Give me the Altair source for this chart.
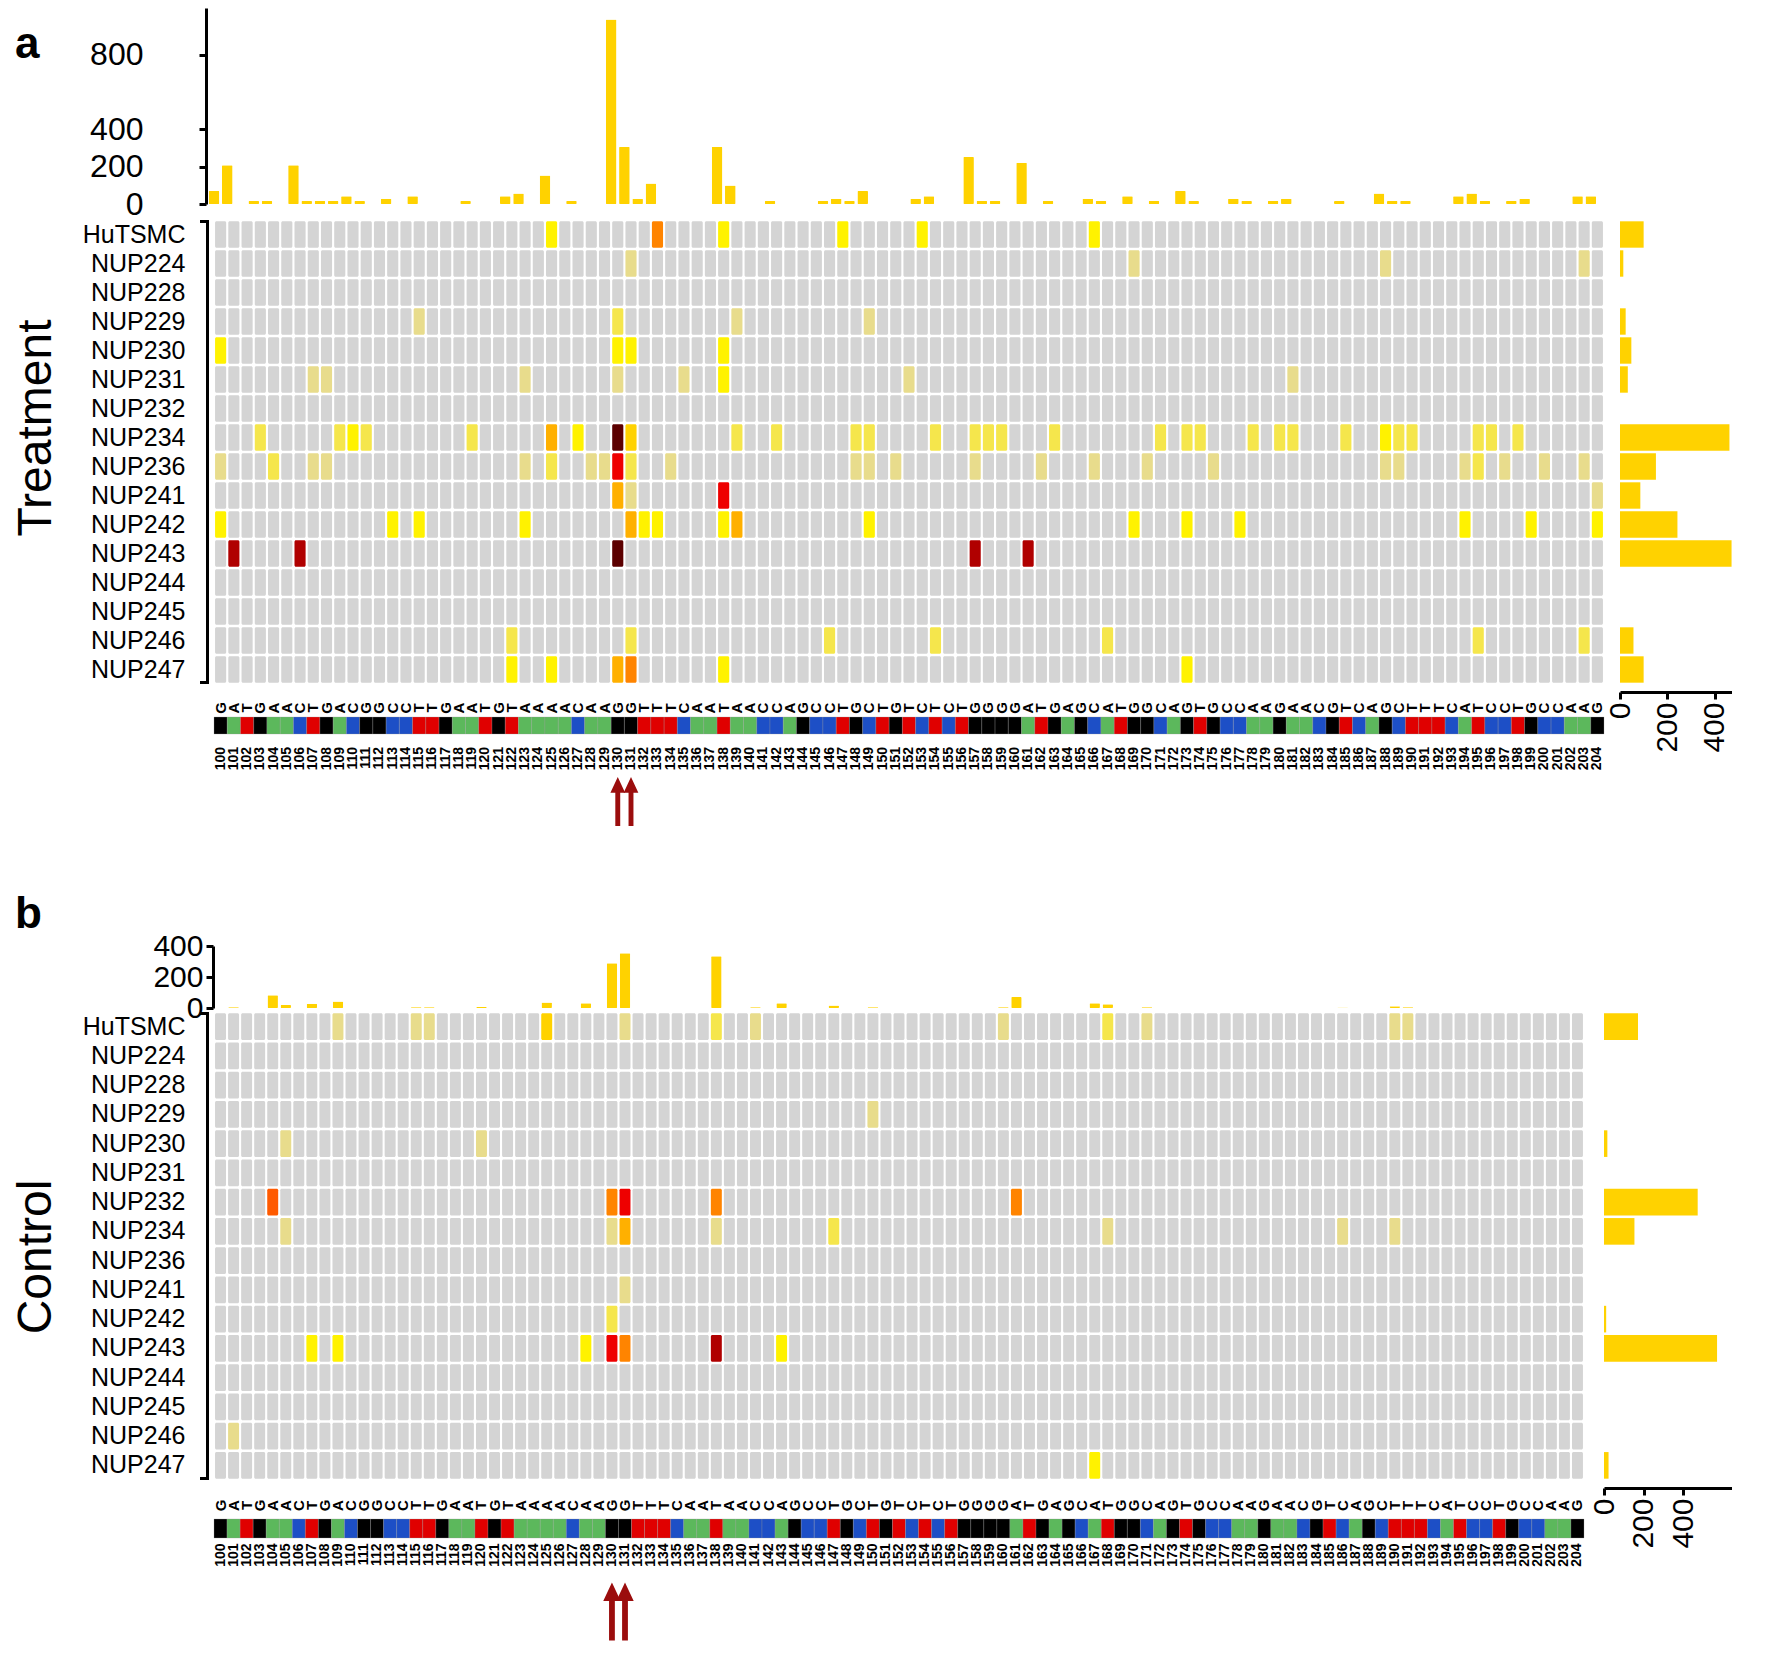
import altair as alt
import pandas as pd

FONT = "Liberation Sans"
GOLD = "#ffd200"

rows = ["HuTSMC", "NUP224", "NUP228", "NUP229", "NUP230", "NUP231", "NUP232", "NUP234",
        "NUP236", "NUP241", "NUP242", "NUP243", "NUP244", "NUP245", "NUP246", "NUP247"]
positions = list(range(100, 205))
sequence = list("GATGAACTGACGGCCTTGAATGTAAAACAAGGTTT"
                "CAATAACCAGCCTGCTGTCTCTGGGGATGAGCATG"
                "GCAGTGCCAAGAACGTCAGCTTTCATCCTGCCAAG")
arrow_positions = [130, 131]

nuc_domain = ["A", "C", "G", "T"]
nuc_colors = ["#5cb85c", "#1d4fc6", "#000000", "#e00000"]

levels = list(range(11))
level_colors = ["#d4d4d4", "#e8dc8c", "#f5e64c", "#fff200", "#ffd200", "#ffb000",
                "#ff8400", "#ff5a00", "#ee0000", "#b00000", "#5c0000"]

# ---- Treatment (a) ----
top_a = {100: 70, 101: 207, 103: 16, 104: 16, 106: 207, 107: 16, 108: 16, 109: 16, 110: 42,
         111: 16, 113: 28, 115: 42, 119: 16, 122: 42, 123: 56, 125: 153, 127: 16, 130: 988,
         131: 306, 132: 28, 133: 110, 138: 306, 139: 99, 142: 16, 146: 16, 147: 28, 148: 16,
         149: 70, 153: 28, 154: 42, 157: 252, 158: 16, 159: 16, 161: 221, 163: 16, 166: 28,
         167: 16, 169: 42, 171: 16, 173: 70, 174: 16, 177: 28, 178: 16, 180: 16, 181: 28,
         185: 16, 188: 56, 189: 16, 190: 16, 194: 42, 195: 56, 196: 16, 198: 16, 199: 28,
         203: 42, 204: 42}
right_a = [100, 14, 0, 24, 48, 33, 0, 463, 152, 86, 243, 472, 0, 0, 57, 100]
treat_cells = {
    "HuTSMC": {125: 3, 133: 6, 138: 3, 147: 3, 153: 3, 166: 3},
    "NUP224": {131: 1, 169: 1, 188: 1, 203: 1},
    "NUP228": {},
    "NUP229": {115: 1, 130: 2, 139: 1, 149: 1},
    "NUP230": {100: 3, 130: 3, 131: 3, 138: 3},
    "NUP231": {107: 1, 108: 1, 123: 1, 130: 1, 135: 1, 138: 3, 152: 1, 181: 1},
    "NUP232": {},
    "NUP234": {103: 2, 109: 2, 110: 3, 111: 2, 119: 2, 125: 5, 127: 3, 130: 10, 131: 4,
               139: 2, 142: 2, 148: 2, 149: 2, 154: 2, 157: 2, 158: 2, 159: 2, 163: 2,
               171: 2, 173: 2, 174: 2, 178: 2, 180: 2, 181: 2, 185: 2, 188: 3, 189: 2,
               190: 2, 195: 2, 196: 2, 198: 2},
    "NUP236": {100: 1, 104: 2, 107: 1, 108: 1, 123: 1, 125: 2, 128: 1, 129: 1, 130: 8,
               131: 2, 134: 1, 148: 1, 149: 1, 151: 1, 157: 1, 162: 1, 166: 1, 170: 1,
               175: 1, 188: 1, 189: 1, 194: 1, 195: 2, 197: 1, 200: 1, 203: 1},
    "NUP241": {130: 5, 131: 1, 138: 8, 204: 1},
    "NUP242": {100: 3, 113: 3, 115: 3, 123: 3, 131: 5, 132: 3, 133: 3, 138: 3, 139: 5,
               149: 3, 169: 3, 173: 3, 177: 3, 194: 3, 199: 3, 204: 3},
    "NUP243": {101: 9, 106: 9, 130: 10, 157: 9, 161: 9},
    "NUP244": {},
    "NUP245": {},
    "NUP246": {122: 2, 131: 2, 146: 2, 154: 2, 167: 2, 195: 2, 203: 2},
    "NUP247": {122: 3, 125: 3, 130: 5, 131: 6, 138: 3, 173: 3},
}

# ---- Control (b) ----
top_b = {101: 5, 104: 82, 105: 19, 107: 28, 109: 42, 115: 5, 116: 5, 120: 7, 125: 35,
         128: 31, 130: 289, 131: 353, 138: 334, 141: 5, 143: 31, 147: 16, 150: 5, 160: 5,
         161: 71, 167: 31, 168: 24, 171: 5, 186: 3, 190: 12, 191: 5}
right_b = [172, 0, 0, 0, 17, 0, 474, 154, 0, 0, 11, 572, 0, 0, 0, 23]
ctrl_cells = {
    "HuTSMC": {109: 1, 115: 1, 116: 1, 125: 4, 131: 1, 138: 2, 141: 1, 160: 1, 168: 2,
               171: 1, 190: 1, 191: 1},
    "NUP229": {150: 1},
    "NUP230": {105: 1, 120: 1},
    "NUP232": {104: 7, 130: 6, 131: 8, 138: 6, 161: 6},
    "NUP234": {105: 1, 130: 1, 131: 5, 138: 1, 147: 2, 168: 1, 186: 1, 190: 1},
    "NUP241": {131: 1},
    "NUP242": {130: 2},
    "NUP243": {107: 3, 109: 3, 128: 3, 130: 8, 131: 6, 138: 9, 143: 3},
    "NUP246": {101: 1},
    "NUP247": {167: 3},
}

ARROW = "M0,-1L0.3,-0.36L0.1,-0.36L0.1,1L-0.1,1L-0.1,-0.36L-0.3,-0.36Z"


def one(text):
    return pd.DataFrame({"t": [text]})


def top_chart(values, width, plot_h, gap, ymax, ticks, label, label_y, x_off,
              axis_offset, label_pad, label_size):
    df = pd.DataFrame({"pos": list(values.keys()), "count": list(values.values())})
    bars = alt.Chart(df).mark_bar(color=GOLD, xOffset=x_off, cornerRadius=1).encode(
        x=alt.X("pos:O", scale=alt.Scale(domain=positions, paddingInner=0.2, paddingOuter=0.1),
                axis=None),
        y=alt.Y("count:Q", scale=alt.Scale(domain=[0, ymax], range=[plot_h, 0], nice=False),
                axis=alt.Axis(values=ticks, title=None, grid=False, domainColor="black",
                              domainWidth=3, tickColor="black", tickWidth=3, tickSize=7,
                              offset=axis_offset, labelPadding=label_pad,
                              labelFontSize=label_size, labelOverlap=False,
                              labelFont=FONT, labelColor="black")),
    )
    lab = alt.Chart(one(label)).mark_text(fontSize=44, fontWeight="bold", font=FONT,
                                          align="left", baseline="alphabetic",
                                          color="black").encode(
        text="t:N", x=alt.value(-199), y=alt.value(label_y))
    return alt.layer(bars, lab).properties(width=width, height=plot_h + gap)


def heat_chart(cells, right_vals, width, height, title, title_y, r_start, r_end, r_max):
    recs = []
    for r in rows:
        d = cells.get(r, {})
        for p in positions:
            recs.append({"sample": r, "pos": p, "level": d.get(p, 0)})
    df = pd.DataFrame(recs)
    ysc = alt.Scale(domain=rows, paddingInner=0.09, paddingOuter=0.045)
    rect = alt.Chart(df).mark_rect(cornerRadius=1.5).encode(
        x=alt.X("pos:O", scale=alt.Scale(domain=positions, paddingInner=0.16,
                                         paddingOuter=0.08), axis=None),
        y=alt.Y("sample:N", scale=ysc,
                axis=alt.Axis(title=None, domain=False, ticks=False, tickSize=0,
                              labelPadding=29, labelFontSize=25, labelFont=FONT,
                              labelColor="black")),
        color=alt.Color("level:O", scale=alt.Scale(domain=levels, range=level_colors),
                        legend=None),
    )
    rdf = pd.DataFrame({"sample": rows, "count": right_vals})
    rbars = alt.Chart(rdf).mark_bar(color=GOLD).encode(
        y=alt.Y("sample:N", scale=ysc),
        x=alt.X("count:Q", scale=alt.Scale(domain=[0, r_max], range=[r_start, r_end], nice=False),
                axis=alt.Axis(values=[0, 200, 400], title=None, grid=False, labelAngle=270,
                              labelAlign="right", labelBaseline="middle", labelFontSize=30,
                              labelFont=FONT, labelColor="black", domainColor="black",
                              domainWidth=3, tickColor="black", tickWidth=3, tickSize=7,
                              offset=8, labelPadding=3, labelOverlap=False)),
    )
    k = one("")
    vline = alt.Chart(k).mark_rule(color="black", strokeWidth=3).encode(
        x=alt.value(-6.5), y=alt.value(0), y2=alt.value(height))
    ttop = alt.Chart(k).mark_rule(color="black", strokeWidth=3).encode(
        x=alt.value(-14), x2=alt.value(-5), y=alt.value(1.5))
    tbot = alt.Chart(k).mark_rule(color="black", strokeWidth=3).encode(
        x=alt.value(-14), x2=alt.value(-5), y=alt.value(height - 1.5))
    ttl = alt.Chart(one(title)).mark_text(angle=270, fontSize=48, font=FONT, align="center",
                                          baseline="middle", color="black").encode(
        text="t:N", x=alt.value(-177), y=alt.value(title_y))
    return alt.layer(rect, rbars, vline, ttop, tbot, ttl).resolve_scale(
        x="independent").properties(width=width, height=height)


def seq_chart(width, height, bar_y0, bar_y1, letter_y, num_y, arrow_y, arrow_h):
    df = pd.DataFrame({"pos": positions, "nuc": sequence})
    xs = alt.Scale(domain=positions, paddingInner=0, paddingOuter=0)
    bar = alt.Chart(df).mark_rect(stroke="#9a9a9a", strokeWidth=0.3).encode(
        x=alt.X("pos:O", scale=xs, axis=None),
        y=alt.value(bar_y0), y2=alt.value(bar_y1),
        color=alt.Color("nuc:N", scale=alt.Scale(domain=nuc_domain, range=nuc_colors),
                        legend=None),
    )
    letters = alt.Chart(df).mark_text(angle=270, fontSize=15, fontWeight="bold", font=FONT,
                                      color="black", baseline="middle", align="center").encode(
        x=alt.X("pos:O", scale=xs, axis=None), y=alt.value(letter_y), text="nuc:N")
    nums = alt.Chart(df).mark_text(angle=270, fontSize=14, fontWeight="bold", font=FONT,
                                   color="black", align="right", baseline="middle").encode(
        x=alt.X("pos:O", scale=xs, axis=None), y=alt.value(num_y), text="pos:N")
    arrows = alt.Chart(pd.DataFrame({"pos": arrow_positions})).mark_point(
        shape=ARROW, size=arrow_h * arrow_h, filled=True, color="#9b0d0d", opacity=1).encode(
        x=alt.X("pos:O", scale=xs, axis=None), y=alt.value(arrow_y))
    return alt.layer(bar, letters, nums, arrows).properties(width=width, height=height)


chart = alt.vconcat(
    top_chart(top_a, 1390, 196, 16, 1050, [0, 200, 400, 800], "a", 50, -6.6, 8, 56, 32),
    heat_chart(treat_cells, right_a, 1390, 464, "Treatment", 208, 1406, 1536, 550),
    seq_chart(1390, 262, 33, 50, 24, 63, 117.5, 49),
    top_chart(top_b, 1370, 62, 4, 400, [0, 200, 400], "b", -18, 0, 1, 3, 30),
    heat_chart(ctrl_cells, right_b, 1370, 468, "Control", 245, 1390, 1525, 683),
    seq_chart(1370, 58, 39, 58, 25.5, 63.5, 131.5, 58),
    spacing=0, bounds="flush",
).resolve_scale(color="independent").configure_view(stroke=None).properties(
    padding={"left": 5, "top": 0, "right": 0, "bottom": 0}, background="white")

chart.save("out.html", embed_options={"renderer": "svg", "actions": False})
